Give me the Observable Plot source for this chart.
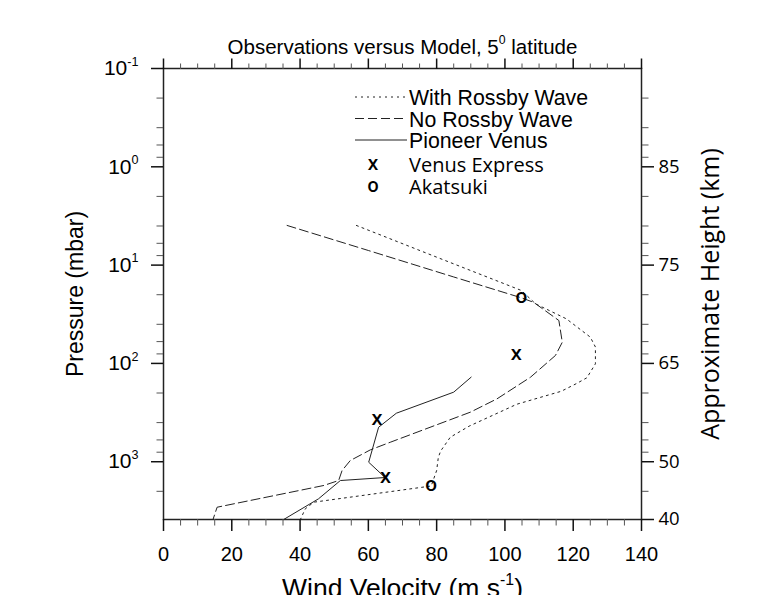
<!DOCTYPE html>
<html>
<head>
<meta charset="utf-8">
<script src="https://cdn.jsdelivr.net/npm/d3@7"></script>
<script src="https://cdn.jsdelivr.net/npm/@observablehq/plot@0.6"></script>
<style>
  html, body { margin: 0; padding: 0; background: #fff; overflow: hidden; }
</style>
</head>
<body>
<div id="chart"></div>
<script>
// ---- Data ----
const withRossbyV = [56.5, 80, 104.8, 109, 118, 125, 126.5, 126.5, 124, 121, 116.5, 103.5, 89.5, 84, 81.2, 80.5, 80, 78.4, 44, 41.5, 40.1];
const withRossbyP = [3.95, 8.3, 18.1, 24.8, 35.2, 54, 68, 101, 140, 160, 192, 260, 435, 563, 776, 900, 1230, 1766, 2580, 3020, 3870];

const noRossbyV = [36.2, 60, 85, 104.8, 108.4, 115.8, 116.8, 114.8, 107.5, 97.7, 89.9, 66.4, 60.6, 54.7, 52.3, 51.3, 46.9, 15.7, 14.5];
const noRossbyP = [3.95, 7.1, 13.2, 21.5, 23.9, 36.6, 60.9, 83, 138, 229, 313, 634, 757, 973, 1230, 1553, 1746, 2903, 3870];

const pioneerV = [90.1, 85.0, 68.2, 63.0, 60.1, 64.9, 51.8, 45.4, 35.2];
const pioneerP = [138, 196, 321, 446, 1012, 1448, 1553, 2384, 3870];

const venusExpressV = [62.5, 103.3, 65.0];
const venusExpressP = [375, 81.2, 1452];

const akatsukiV = [104.8, 78.4];
const akatsukiP = [21.5, 1766];

// ---- Ticks / labels ----
const xMajor = [0, 20, 40, 60, 80, 100, 120, 140];
const xMinor = [5, 10, 15, 25, 30, 35, 45, 50, 55, 65, 70, 75, 85, 90, 95, 105, 110, 115, 125, 130, 135];
const pressureTicks = [0.1, 1, 10, 100, 1000];
const pressureTickLabels = ["10^{-1}", "10^{0}", "10^{1}", "10^{2}", "10^{3}"];
const pressureMinor = [0.2, 0.4, 0.6, 0.8, 2, 4, 6, 8, 20, 40, 60, 80, 200, 400, 600, 800, 2000];
const heightTickPressures = [1, 10, 100, 1000, 3870];
const heightTickLabels = ["85", "75", "65", "50", "40"];
const pressureDomain = [0.1, 3870];
const velocityDomain = [0, 140];

const titleText = "Observations versus Model, 5^{0} latitude";
const xLabel = "Wind Velocity (m s^{-1})";
const yLabel = "Pressure (mbar)";
const y2Label = "Approximate Height (km)";

const legendLines = [
  {label: "With Rossby Wave", dash: "2,4"},
  {label: "No Rossby Wave", dash: "9,4"},
  {label: "Pioneer Venus", dash: null}
];
const legendSymbols = [
  {sym: "x", label: "Venus Express"},
  {sym: "o", label: "Akatsuki"}
];

const rows = (vs, ps) => vs.map((v, i) => ({v, p: ps[i]}));
const LIB = "'Liberation Sans', Arial, Helvetica, sans-serif";
const OPEN = "'Open Sans', 'Noto Sans', sans-serif";
const lineColor = "#222";
const noText = () => "";

const plot = Plot.plot({
  width: 773,
  height: 595,
  marginLeft: 163,
  marginRight: 132,
  marginTop: 68,
  marginBottom: 76,
  style: {fontFamily: LIB, background: "#fff", color: "#000", overflow: "hidden"},
  x: {domain: velocityDomain},
  y: {type: "log", domain: pressureDomain, reverse: true},
  marks: [
    // curves
    Plot.line(rows(withRossbyV, withRossbyP), {x: "v", y: "p", stroke: lineColor, strokeWidth: 1, strokeDasharray: "2,4"}),
    Plot.line(rows(noRossbyV, noRossbyP), {x: "v", y: "p", stroke: lineColor, strokeWidth: 1, strokeDasharray: "9,4"}),
    Plot.line(rows(pioneerV, pioneerP), {x: "v", y: "p", stroke: lineColor, strokeWidth: 1}),
    // observation markers
    Plot.text(rows(venusExpressV, venusExpressP), {x: "v", y: "p", text: () => "x", fontFamily: OPEN, fontSize: 20, fontWeight: 600, fill: "#000", dy: -1}),
    Plot.text(rows(akatsukiV, akatsukiP), {x: "v", y: "p", text: () => "o", fontFamily: OPEN, fontSize: 20, fontWeight: 600, fill: "#000", dy: -1}),
    // frame
    Plot.frame({stroke: "#222", strokeWidth: 1.5}),
    // bottom axis
    Plot.axisX({anchor: "bottom", ticks: xMinor, tickSize: 6.5, stroke: "#555", strokeWidth: 1, tickFormat: noText, label: null}),
    Plot.axisX({anchor: "bottom", ticks: xMajor, tickSize: 12, tickPadding: 15, stroke: "#111", strokeWidth: 1.5, fontSize: 20, fill: "#000", tickFormat: d => String(d), label: null}),
    // top axis
    Plot.axisX({anchor: "top", ticks: xMinor, tickSize: 5.5, stroke: "#555", strokeWidth: 1, tickFormat: noText, label: null}),
    Plot.axisX({anchor: "top", ticks: xMajor, tickSize: 10.5, stroke: "#111", strokeWidth: 1.5, tickFormat: noText, label: null}),
    // left axis
    Plot.axisY({anchor: "left", ticks: pressureMinor, tickSize: 6.5, stroke: "#555", strokeWidth: 1, tickFormat: noText, label: null}),
    Plot.axisY({anchor: "left", ticks: pressureTicks, tickSize: 12, stroke: "#111", strokeWidth: 1.5, tickFormat: noText, label: null}),
    Plot.text(pressureTicks, {y: d => d, frameAnchor: "left", text: (d, i) => pressureTickLabels[i], textAnchor: "end", dx: -25, fontSize: 21, fill: "#000"}),
    // right axis
    Plot.axisY({anchor: "right", ticks: pressureMinor, tickSize: 6.5, stroke: "#555", strokeWidth: 1, tickFormat: noText, label: null}),
    Plot.axisY({anchor: "right", ticks: heightTickPressures, tickSize: 12, stroke: "#111", strokeWidth: 1.5, tickFormat: noText, label: null}),
    Plot.text(heightTickPressures, {y: d => d, frameAnchor: "right", text: (d, i) => heightTickLabels[i], textAnchor: "start", dx: 17, fontFamily: OPEN, fontSize: 18.5, fill: "#000"}),
    // titles
    Plot.text([titleText], {frameAnchor: "top", text: d => d, textAnchor: "middle", dy: -15, lineAnchor: "bottom", fontSize: 20.5, fill: "#000"}),
    Plot.text([xLabel], {frameAnchor: "bottom", text: d => d, textAnchor: "middle", dy: 77, lineAnchor: "bottom", fontSize: 26.5, fill: "#000"}),
    Plot.text([yLabel], {frameAnchor: "left", text: d => d, textAnchor: "middle", dx: -81, rotate: -90, lineAnchor: "bottom", fontSize: 23, fill: "#000"}),
    Plot.text([y2Label], {frameAnchor: "right", text: d => d, textAnchor: "middle", dx: 77, rotate: -90, lineAnchor: "bottom", fontFamily: OPEN, fontSize: 25, fill: "#000"})
  ]
});

// superscripts: "base^{sup}" -> tspans
d3.select(plot).selectAll("text").each(function () {
  const t = this.textContent;
  if (!t.includes("^{")) return;
  const parts = t.split(/(\^\{[^}]*\})/).filter(s => s.length);
  const sel = d3.select(this);
  sel.text(null);
  let shifted = false;
  parts.forEach(s => {
    if (s.startsWith("^{")) {
      sel.append("tspan").attr("font-size", "0.6em").attr("dy", "-0.75em").text(s.slice(2, -1));
      shifted = true;
    } else {
      const ts = sel.append("tspan").text(s);
      if (shifted) { ts.attr("dy", "0.45em"); shifted = false; }
    }
  });
});

// legend (inside plot area, top right)
const lg = d3.select(plot).append("g").attr("class", "legend").attr("text-anchor", "start");
const lx0 = 355, lx1 = 407, tx = 409;
legendLines.forEach((e, i) => {
  const y = 97 + i * 21.5;
  lg.append("line").attr("x1", lx0).attr("x2", lx1).attr("y1", y).attr("y2", y)
    .attr("stroke", lineColor).attr("stroke-width", 1)
    .attr("stroke-dasharray", e.dash);
  lg.append("text").attr("x", tx).attr("y", y + 8).attr("text-anchor", "start").attr("font-family", LIB).attr("font-size", 21.3)
    .attr("fill", "#000").text(e.label);
});
legendSymbols.forEach((e, i) => {
  const y = 165 + i * 22;
  lg.append("text").attr("x", 373).attr("y", y + 5).attr("text-anchor", "middle")
    .attr("font-family", OPEN).attr("font-size", 19).attr("font-weight", 600).attr("fill", "#000").text(e.sym);
  lg.append("text").attr("x", tx).attr("y", y + 7).attr("text-anchor", "start").attr("font-family", OPEN).attr("font-size", 20)
    .attr("fill", "#000").text(e.label);
});

document.getElementById("chart").appendChild(plot);
</script>
</body>
</html>
